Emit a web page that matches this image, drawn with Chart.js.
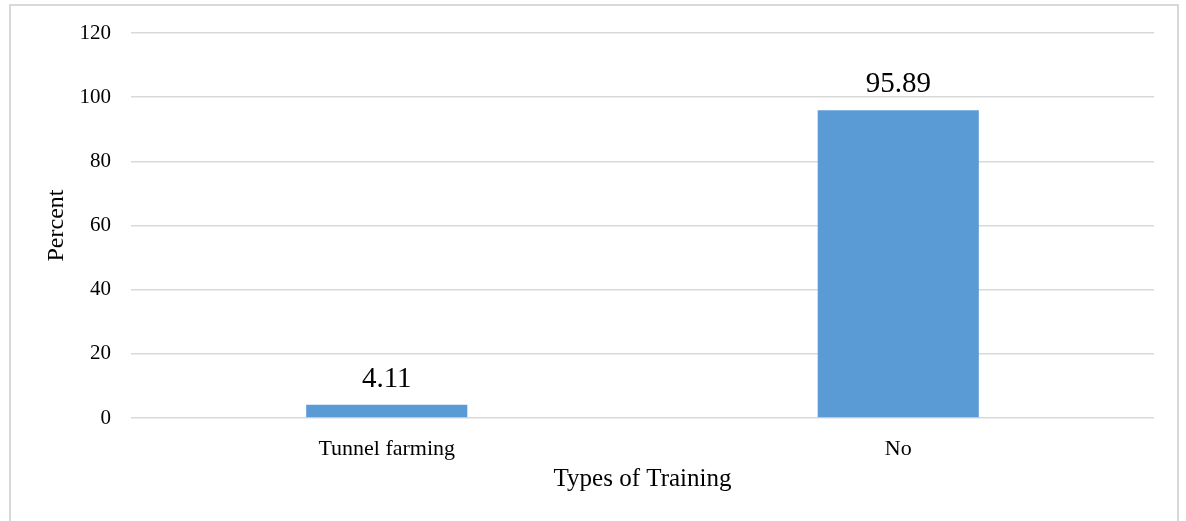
<!DOCTYPE html>
<html>
<head>
<meta charset="utf-8">
<script src="https://cdn.jsdelivr.net/npm/chart.js@4/dist/chart.umd.min.js"></script>
<style>
  html, body { margin: 0; padding: 0; background: #fff; }
  #frame {
    position: absolute; left: 9px; top: 4px; width: 1170px; height: 540px;
    border: 2px solid #d9d9d9; box-sizing: border-box;
  }
  #chart { position: absolute; left: 0; top: 0; }
</style>
</head>
<body>
<div id="frame"></div>
<canvas id="chart" width="1186" height="521"></canvas>
<script>
// Training types and share of respondents (%)
const categories = ['Tunnel farming', 'No'];
const percentValues = [4.11, 95.89];
const yTicks = [0, 20, 40, 60, 80, 100, 120];

const SERIF = '"Liberation Serif", "Times New Roman", serif';

// Writes each bar's value just above it
const valueLabels = {
  id: 'valueLabels',
  afterDatasetsDraw(chart) {
    const ctx = chart.ctx;
    const meta = chart.getDatasetMeta(0);
    ctx.save();
    ctx.font = '29px ' + SERIF;
    ctx.fillStyle = '#000';
    ctx.textAlign = 'center';
    ctx.textBaseline = 'alphabetic';
    meta.data.forEach((bar, i) => {
      ctx.fillText(percentValues[i].toFixed(2), bar.x, bar.y - 18);
    });
    ctx.restore();
  }
};

new Chart(document.getElementById('chart'), {
  type: 'bar',
  data: {
    labels: categories,
    datasets: [{
      data: percentValues,
      backgroundColor: '#5B9BD5',
      borderWidth: 0,
      categoryPercentage: 0.315,
      barPercentage: 1.0
    }]
  },
  options: {
    responsive: false,
    animation: false,
    layout: { padding: { left: 20, right: 32, top: 33, bottom: 0 } },
    plugins: { legend: { display: false }, tooltip: { enabled: false } },
    scales: {
      x: {
        grid: { display: false },
        border: { display: false },
        ticks: { color: '#000', font: { family: SERIF, size: 22 }, padding: 10 },
        title: {
          display: true, text: 'Types of Training', color: '#000',
          font: { family: SERIF, size: 25 }, padding: { top: 0, bottom: 27 }
        },
        afterFit(scale) { scale.height = 103; }
      },
      y: {
        min: 0, max: 120,
        afterBuildTicks(scale) { scale.ticks = yTicks.map(v => ({ value: v })); },
        grid: { color: '#d9d9d9', lineWidth: 1.5, drawTicks: false },
        border: { display: false },
        ticks: { color: '#000', font: { family: SERIF, size: 21 }, padding: 20 },
        title: {
          display: true, text: 'Percent', color: '#000',
          font: { family: SERIF, size: 24 }, padding: { top: 22, bottom: 0 }
        },
        afterFit(scale) { scale.width = 111; }
      }
    }
  },
  plugins: [valueLabels]
});
</script>
</body>
</html>
